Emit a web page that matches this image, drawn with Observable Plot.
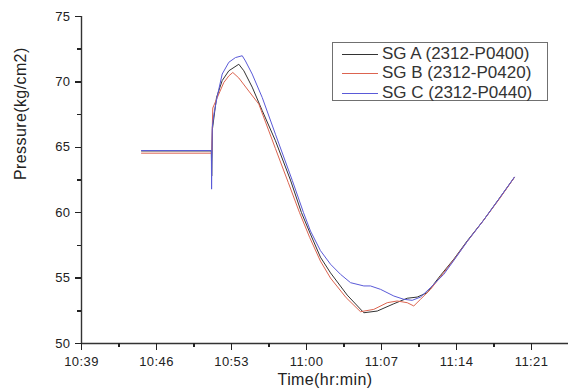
<!DOCTYPE html>
<html><head><meta charset="utf-8">
<script src="https://cdn.jsdelivr.net/npm/d3@7"></script>
<script src="https://cdn.jsdelivr.net/npm/@observablehq/plot@0.6"></script>
<style>
body{margin:0;background:#fff;}
#wrap{position:relative;width:568px;height:390px;overflow:hidden;}
#legend{position:absolute;left:332px;top:42px;width:214px;height:57px;border:1.5px solid #707070;background:#fff;font-family:"Liberation Sans",Arial,sans-serif;font-size:17px;color:#333;}
.row{position:absolute;left:0;height:20px;line-height:20px;white-space:nowrap;}
.row span.sw{position:absolute;left:9px;top:10px;width:36px;height:1px;}
.row span.tx{position:absolute;left:49px;top:0;}
g[aria-label$="axis tick"]{shape-rendering:crispEdges;}
</style>
</head><body>
<div id="wrap"><div id="legend"></div></div>
<script>
// time = minutes after 10:00
const seriesNames = ["SG A (2312-P0400)", "SG B (2312-P0420)", "SG C (2312-P0440)"];
const seriesColors = ["#333333", "#dc6450", "#5a5ad8"];

const timeA = [44.6,51.12,51.15,51.22,51.6,52.13,52.75,53.68,54.15,54.93,55.87,57.1,58.5,59.53,60.4,61.3,62.24,63.8,65.35,66.6,68.15,69.4,70.33,71.26,72.5,73.75,75.0,76.5,78.0,79.4];
const valA  = [64.72,64.72,62.8,66.4,68.8,70.1,70.85,71.35,70.85,69.6,67.8,65.5,62.5,60.0,58.3,56.6,55.4,53.7,52.35,52.48,53.04,53.46,53.55,53.88,55.2,56.45,57.85,59.4,61.1,62.7];

const timeB = [44.6,51.12,51.15,51.25,51.67,52.28,52.75,53.12,53.68,54.61,55.55,57.1,58.3,59.35,60.3,61.3,62.24,63.7,65.04,66.28,67.53,68.46,69.4,70.01,70.64,71.57,72.7,73.75,75.0,76.5,78.0,79.4];
const valB  = [64.55,64.55,64.55,68.0,68.8,69.95,70.46,70.72,70.3,69.3,68.3,64.9,62.3,60.0,58.1,56.3,55.0,53.5,52.43,52.61,53.12,53.25,53.12,52.87,53.38,54.14,55.3,56.4,57.8,59.4,61.05,62.7];

const timeC = [44.6,51.12,51.14,51.2,51.35,51.67,52.13,52.75,53.37,54.0,54.3,54.93,55.87,57.1,58.68,59.72,60.37,61.3,62.24,63.17,64.11,65.35,65.97,66.91,68.15,69.08,69.86,70.64,71.57,72.81,73.75,75.0,76.5,78.0,79.4];
const valC  = [64.75,64.75,61.8,66.5,67.5,68.9,70.6,71.5,71.86,72.0,71.6,70.6,68.8,66.0,62.45,60.0,58.6,57.1,56.06,55.29,54.65,54.4,54.4,54.14,53.63,53.38,53.3,53.55,54.27,55.29,56.35,57.8,59.4,61.1,62.72];

const yTicks = [50, 55, 60, 65, 70, 75];
const yMinor = [52.5, 57.5, 62.5, 67.5, 72.5];
const xTicks = [39, 46, 53, 60, 67, 74, 81];
const xTickLabels = ["10:39", "10:46", "10:53", "11:00", "11:07", "11:14", "11:21"];
const xMinor = [42.5, 49.5, 56.5, 63.5, 70.5, 77.5];

const times = [timeA, timeB, timeC];
const vals = [valA, valB, valC];
const rows = [];
seriesNames.forEach((s, k) => times[k].forEach((t, i) => rows.push({series: s, t, v: vals[k][i]})));
const xLabelMap = new Map(xTicks.map((d, i) => [d, xTickLabels[i]]));

const ax = "#222";
const chart = Plot.plot({
  width: 568, height: 390,
  marginLeft: 81, marginRight: 0, marginTop: 16, marginBottom: 47,
  style: {fontFamily: "Liberation Sans, Arial, sans-serif", fontSize: "13px", color: "#222", background: "white", letterSpacing: "0.4px"},
  x: {domain: [39, 84.45]},
  y: {domain: [50, 75]},
  marks: [
    Plot.ruleY([50], {stroke: "#333", strokeWidth: 1.4}),
    Plot.ruleX([39], {y1: 50, y2: 75, stroke: "#333", strokeWidth: 1.4}),
    ...seriesNames.map((s, k) => Plot.line(rows.filter(r => r.series === s), {x: "t", y: "v", stroke: seriesColors[k], strokeWidth: 1})),
    Plot.axisY(yTicks, {tickSize: 6, tickPadding: 5, label: null, stroke: ax, strokeWidth: 1.5, fill: "#222", tickFormat: d => String(d)}),
    Plot.axisY(yMinor, {tickSize: 4, label: null, stroke: ax, strokeWidth: 1.5, tickFormat: () => ""}),
    Plot.axisX(xTicks, {tickSize: 7, tickPadding: 6, label: null, stroke: ax, strokeWidth: 1.5, fill: "#222", tickFormat: d => xLabelMap.get(d)}),
    Plot.axisX(xMinor, {tickSize: 4, label: null, stroke: ax, strokeWidth: 1.5, tickFormat: () => ""}),
    Plot.text(["Time(hr:min)"], {frameAnchor: "bottom", dy: 41, fontSize: 16, fill: "#222"}),
    Plot.text(["Pressure(kg/cm2)"], {frameAnchor: "left", dx: -61, rotate: -90, fontSize: 16, fill: "#222"})
  ]
});
const wrap = document.getElementById("wrap");
wrap.insertBefore(chart, wrap.firstChild);

const legend = document.getElementById("legend");
const rowCenters = [11, 30, 50];
seriesNames.forEach((s, k) => {
  const r = document.createElement("div");
  r.className = "row";
  r.style.top = (rowCenters[k] - 10) + "px";
  r.innerHTML = `<span class="sw" style="background:${seriesColors[k]}"></span><span class="tx">${s}</span>`;
  legend.appendChild(r);
});
</script>
</body></html>
